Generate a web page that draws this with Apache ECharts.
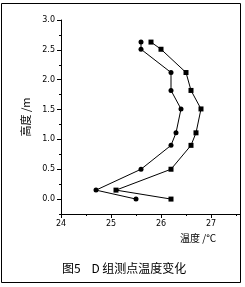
<!DOCTYPE html>
<html>
<head>
<meta charset="utf-8">
<script src="https://cdn.jsdelivr.net/npm/echarts@6/dist/echarts.min.js"></script>
<style>
  html, body { margin: 0; padding: 0; background: #fff; }
  #chart { width: 245px; height: 287px; }
</style>
</head>
<body>
<div id="chart"></div>
<script>
// heights of the measuring points (m)
const heights = [2.63, 2.51, 2.12, 1.82, 1.51, 1.11, 0.90, 0.50, 0.15, 0.00];
// temperatures (°C), circle series and square series
const circleTemps = [25.6, 25.6, 26.2, 26.2, 26.4, 26.3, 26.2, 25.6, 24.7, 25.5];
const squareTemps = [25.8, 26.0, 26.5, 26.6, 26.8, 26.7, 26.6, 26.2, 25.1, 26.2];
const yTicks = [0, 0.5, 1.0, 1.5, 2.0, 2.5, 3.0];

const pairs = (temps) => temps.map((t, i) => [t, heights[i]]);

const tickFont = { fontFamily: 'DejaVu Sans', fontSize: 8, color: '#000' };
const black = '#000';

const chart = echarts.init(document.getElementById('chart'), null, { renderer: 'canvas' });
chart.setOption({
    animation: false,
    backgroundColor: '#fff',
    grid: [
        // plot area; x axis runs on past the frame, the part outside is masked below
        { left: 61, top: 20, width: 200, bottom: 73, outerBoundsMode: 'none', containLabel: false },
        // same scale, ends at 27: carries the x tick labels
        { left: 61, top: 20, width: 150, bottom: 73, outerBoundsMode: 'none', containLabel: false }
    ],
    xAxis: [
        {
            gridIndex: 0,
            type: 'value',
            min: 24,
            max: 28,
            interval: 1,
            splitLine: { show: false },
            axisLine: { show: true, onZero: false, lineStyle: { color: black, width: 1 } },
            axisTick: { show: true, inside: false, length: 4, lineStyle: { color: black } },
            minorTick: { show: true, splitNumber: 2, length: 2, lineStyle: { color: black } },
            axisLabel: { show: false }
        },
        {
            gridIndex: 1,
            type: 'value',
            min: 24,
            max: 27,
            interval: 1,
            splitLine: { show: false },
            axisLine: { show: false, onZero: false },
            axisTick: { show: false },
            axisLabel: { ...tickFont, margin: 6, showMinLabel: true, showMaxLabel: true, hideOverlap: false }
        }
    ],
    yAxis: [
        {
            // minor ticks every 0.25
            gridIndex: 0,
            type: 'value',
            min: -0.25,
            max: 3,
            interval: 0.25,
            position: 'left',
            splitLine: { show: false },
            axisLine: { show: false },
            axisTick: { show: true, length: 2, lineStyle: { color: black } },
            axisLabel: { show: false }
        },
        {
            gridIndex: 0,
            type: 'value',
            min: -0.25,
            max: 3,
            position: 'left',
            splitLine: { show: false },
            axisLine: { show: true, onZero: false, lineStyle: { color: black, width: 1 } },
            axisTick: { show: true, length: 4, customValues: yTicks, lineStyle: { color: black } },
            axisLabel: { ...tickFont, margin: 6, customValues: yTicks,
                formatter: v => v.toFixed(1) },
            name: '高度 /m',
            nameLocation: 'middle',
            nameGap: 27,
            nameRotate: 90,
            nameTextStyle: { fontFamily: 'Noto Sans CJK SC', fontSize: 11, color: black }
        },
        {
            gridIndex: 1,
            type: 'value',
            min: -0.25,
            max: 3,
            show: false
        }
    ],
    series: [
        {
            type: 'line',
            xAxisIndex: 0,
            yAxisIndex: 0,
            data: pairs(circleTemps),
            symbol: 'circle',
            symbolSize: 5,
            itemStyle: { color: black },
            lineStyle: { color: black, width: 1 }
        },
        {
            type: 'line',
            xAxisIndex: 0,
            yAxisIndex: 0,
            data: pairs(squareTemps),
            symbol: 'rect',
            symbolSize: 5,
            itemStyle: { color: black },
            lineStyle: { color: black, width: 1 }
        }
    ],
    graphic: [
        {
            type: 'rect',
            z: 100,
            shape: { x: 241, y: 0, width: 10, height: 287 },
            style: { fill: '#fff' },
            silent: true
        },
        {
            type: 'rect',
            z: 101,
            shape: { x: 1.5, y: 3.5, width: 239, height: 279 },
            style: { fill: null, stroke: black, lineWidth: 1 },
            silent: true
        },
        {
            type: 'text',
            left: 180,
            top: 233,
            style: { text: '温度 /°C', font: '10px "Noto Sans CJK SC"', fill: black }
        },
        {
            type: 'text',
            left: 62,
            top: 262,
            style: { text: '图5    D 组测点温度变化', font: '12px "Noto Sans CJK SC"', fill: black }
        }
    ]
});
</script>
</body>
</html>
